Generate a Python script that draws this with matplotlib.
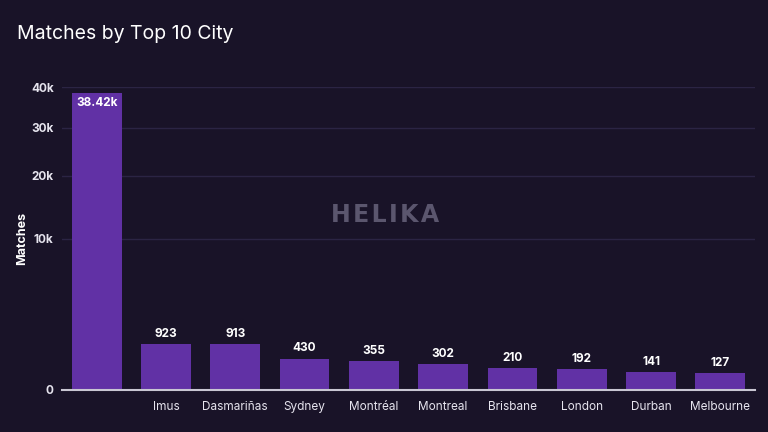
import numpy as np
import matplotlib.pyplot as plt

cities = ['', 'Imus', 'Dasmariñas', 'Sydney', 'Montréal', 'Montreal',
          'Brisbane', 'London', 'Durban', 'Melbourne']
matches = [38420, 923, 913, 430, 355, 302, 210, 192, 141, 127]
bar_labels = ['38.42k', '923', '913', '430', '355', '302', '210', '192', '141', '127']
y_ticks = [0, 10000, 20000, 30000, 40000]
y_tick_labels = ['0', '10k', '20k', '30k', '40k']

BG = '#191328'
BAR = '#6131a5'
GRID = '#2b2444'
TXT = '#e6e4ee'

plt.rcParams['font.family'] = ['Inter', 'DejaVu Sans']

fig = plt.figure(figsize=(7.68, 4.32), dpi=100, facecolor=BG)
ax = fig.add_axes([62 / 768, 42 / 432, 693 / 768, 303 / 432], facecolor=BG)

# square-root y scale, as in the reference
ax.set_yscale('function', functions=(lambda v: np.sqrt(np.clip(v, 0, None)), np.square))
ax.set_ylim(0, 40000)
ax.set_xlim(-0.5, 9.5)

x = np.arange(len(cities))
ax.bar(x, matches, width=0.72, color=BAR, zorder=3)

for i, (v, lab) in enumerate(zip(matches, bar_labels)):
    if i == 0:
        ax.annotate(lab, (i, v), xytext=(0, -3), textcoords='offset points',
                    ha='center', va='top', color='white', fontsize=8.5, fontweight='bold', zorder=4)
    else:
        ax.annotate(lab, (i, v), xytext=(0, 3), textcoords='offset points',
                    ha='center', va='bottom', color='white', fontsize=8.5, fontweight='bold', zorder=4)

ax.set_yticks(y_ticks)
ax.set_yticklabels(y_tick_labels)
ax.set_xticks(x)
ax.set_xticklabels(cities)
ax.tick_params(axis='both', colors=TXT, labelsize=8.5, length=0)
ax.tick_params(axis='x', pad=8)
ax.tick_params(axis='y', pad=6)
for t in ax.get_yticklabels():
    t.set_fontweight('bold')

ax.grid(axis='y', color=GRID, linewidth=1, zorder=0)
for s in ['top', 'right', 'left']:
    ax.spines[s].set_visible(False)
ax.spines['bottom'].set_color('#c9c7d3')
ax.spines['bottom'].set_linewidth(1.5)
ax.spines['bottom'].set_zorder(5)

ax.set_ylabel('Matches', color='white', fontsize=9, fontweight='bold')
ax.yaxis.set_label_coords(-34 / 693, 0.5)

fig.text(17 / 768, 1 - 34 / 432, 'Matches by Top 10 City', color='white',
         fontsize=14, va='center', ha='left')
fig.text(385 / 768, 1 - 215 / 432, '\u200a'.join('HELIKA'), color='#5b566e', fontsize=17,
         fontweight='bold', family='DejaVu Sans', ha='center', va='center', zorder=1)

fig.savefig('out.png', dpi=100, facecolor=BG)
